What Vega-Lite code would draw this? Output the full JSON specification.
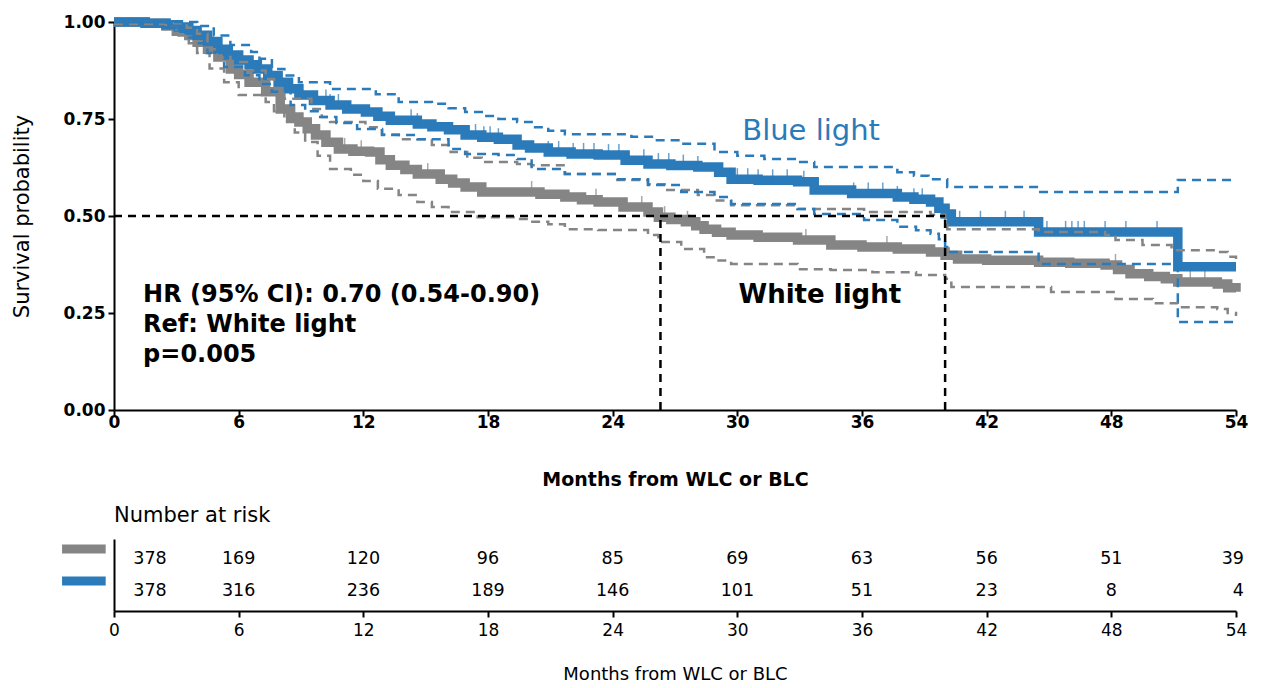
{
 "$schema": "https://vega.github.io/schema/vega-lite/v6.json",
 "padding": {"left": 11, "top": 3, "right": 5, "bottom": 3},
 "background": "white",
 "bounds": "flush",
 "spacing": 129,
 "config": {
  "view": {"stroke": null},
  "font": "DejaVu Sans",
  "axis": {"grid": false, "domainColor": "black", "tickColor": "black", "domainWidth": 2, "tickWidth": 2, "tickSize": 6, "labelColor": "black", "titleColor": "black", "labelFont": "DejaVu Sans", "titleFont": "DejaVu Sans"}
 },
 "datasets": {
  "km": [
   {"g":"White light","c":"est","t":0,"s":1.0},{"g":"White light","c":"est","t":1.5,"s":0.997},{"g":"White light","c":"est","t":2.5,"s":0.99},{"g":"White light","c":"est","t":3.0,"s":0.976},{"g":"White light","c":"est","t":3.6,"s":0.965},{"g":"White light","c":"est","t":4.0,"s":0.948},{"g":"White light","c":"est","t":4.5,"s":0.93},{"g":"White light","c":"est","t":5.0,"s":0.91},{"g":"White light","c":"est","t":5.6,"s":0.879},{"g":"White light","c":"est","t":6.0,"s":0.865},{"g":"White light","c":"est","t":6.5,"s":0.845},{"g":"White light","c":"est","t":7.3,"s":0.82},{"g":"White light","c":"est","t":8.0,"s":0.776},{"g":"White light","c":"est","t":8.5,"s":0.755},{"g":"White light","c":"est","t":8.9,"s":0.742},{"g":"White light","c":"est","t":9.3,"s":0.725},{"g":"White light","c":"est","t":9.7,"s":0.709},{"g":"White light","c":"est","t":10.2,"s":0.69},{"g":"White light","c":"est","t":10.8,"s":0.673},{"g":"White light","c":"est","t":11.5,"s":0.667},{"g":"White light","c":"est","t":12.3,"s":0.665},{"g":"White light","c":"est","t":12.8,"s":0.645},{"g":"White light","c":"est","t":13.3,"s":0.631},{"g":"White light","c":"est","t":14.0,"s":0.62},{"g":"White light","c":"est","t":14.6,"s":0.608},{"g":"White light","c":"est","t":15.7,"s":0.595},{"g":"White light","c":"est","t":16.3,"s":0.585},{"g":"White light","c":"est","t":16.9,"s":0.575},{"g":"White light","c":"est","t":17.7,"s":0.562},{"g":"White light","c":"est","t":20.5,"s":0.556},{"g":"White light","c":"est","t":21.7,"s":0.549},{"g":"White light","c":"est","t":22.5,"s":0.542},{"g":"White light","c":"est","t":23.3,"s":0.536},{"g":"White light","c":"est","t":24.5,"s":0.523},{"g":"White light","c":"est","t":25.7,"s":0.51},{"g":"White light","c":"est","t":26.2,"s":0.497},{"g":"White light","c":"est","t":26.8,"s":0.491},{"g":"White light","c":"est","t":27.5,"s":0.485},{"g":"White light","c":"est","t":28.0,"s":0.475},{"g":"White light","c":"est","t":28.4,"s":0.466},{"g":"White light","c":"est","t":29.0,"s":0.458},{"g":"White light","c":"est","t":29.7,"s":0.451},{"g":"White light","c":"est","t":31.0,"s":0.445},{"g":"White light","c":"est","t":32.9,"s":0.438},{"g":"White light","c":"est","t":34.5,"s":0.425},{"g":"White light","c":"est","t":36.0,"s":0.42},{"g":"White light","c":"est","t":37.7,"s":0.415},{"g":"White light","c":"est","t":39.3,"s":0.407},{"g":"White light","c":"est","t":40.0,"s":0.399},{"g":"White light","c":"est","t":40.6,"s":0.389},{"g":"White light","c":"est","t":42.0,"s":0.386},{"g":"White light","c":"est","t":44.5,"s":0.381},{"g":"White light","c":"est","t":46.0,"s":0.378},{"g":"White light","c":"est","t":47.7,"s":0.374},{"g":"White light","c":"est","t":48.3,"s":0.362},{"g":"White light","c":"est","t":48.9,"s":0.351},{"g":"White light","c":"est","t":49.8,"s":0.344},{"g":"White light","c":"est","t":50.6,"s":0.338},{"g":"White light","c":"est","t":51.2,"s":0.33},{"g":"White light","c":"est","t":53.1,"s":0.325},{"g":"White light","c":"est","t":53.6,"s":0.315},{"g":"White light","c":"est","t":54.0,"s":0.305},
   {"g":"Blue light","c":"est","t":0,"s":1.0},{"g":"Blue light","c":"est","t":1.5,"s":0.997},{"g":"Blue light","c":"est","t":2.5,"s":0.993},{"g":"Blue light","c":"est","t":3.1,"s":0.987},{"g":"Blue light","c":"est","t":3.6,"s":0.978},{"g":"Blue light","c":"est","t":4.0,"s":0.966},{"g":"Blue light","c":"est","t":4.5,"s":0.95},{"g":"Blue light","c":"est","t":5.0,"s":0.93},{"g":"Blue light","c":"est","t":5.5,"s":0.915},{"g":"Blue light","c":"est","t":6.0,"s":0.902},{"g":"Blue light","c":"est","t":6.5,"s":0.89},{"g":"Blue light","c":"est","t":6.9,"s":0.879},{"g":"Blue light","c":"est","t":7.4,"s":0.862},{"g":"Blue light","c":"est","t":7.9,"s":0.845},{"g":"Blue light","c":"est","t":8.4,"s":0.828},{"g":"Blue light","c":"est","t":8.9,"s":0.812},{"g":"Blue light","c":"est","t":9.6,"s":0.798},{"g":"Blue light","c":"est","t":10.4,"s":0.786},{"g":"Blue light","c":"est","t":11.2,"s":0.776},{"g":"Blue light","c":"est","t":12.1,"s":0.768},{"g":"Blue light","c":"est","t":12.7,"s":0.757},{"g":"Blue light","c":"est","t":13.3,"s":0.747},{"g":"Blue light","c":"est","t":14.6,"s":0.737},{"g":"Blue light","c":"est","t":15.3,"s":0.73},{"g":"Blue light","c":"est","t":16.1,"s":0.722},{"g":"Blue light","c":"est","t":16.9,"s":0.709},{"g":"Blue light","c":"est","t":17.7,"s":0.703},{"g":"Blue light","c":"est","t":18.5,"s":0.698},{"g":"Blue light","c":"est","t":19.4,"s":0.683},{"g":"Blue light","c":"est","t":20.0,"s":0.675},{"g":"Blue light","c":"est","t":20.9,"s":0.665},{"g":"Blue light","c":"est","t":22.0,"s":0.66},{"g":"Blue light","c":"est","t":23.3,"s":0.657},{"g":"Blue light","c":"est","t":24.6,"s":0.644},{"g":"Blue light","c":"est","t":25.7,"s":0.634},{"g":"Blue light","c":"est","t":26.8,"s":0.63},{"g":"Blue light","c":"est","t":28.1,"s":0.626},{"g":"Blue light","c":"est","t":29.1,"s":0.613},{"g":"Blue light","c":"est","t":29.7,"s":0.595},{"g":"Blue light","c":"est","t":31.0,"s":0.592},{"g":"Blue light","c":"est","t":32.9,"s":0.588},{"g":"Blue light","c":"est","t":33.7,"s":0.567},{"g":"Blue light","c":"est","t":35.5,"s":0.558},{"g":"Blue light","c":"est","t":37.7,"s":0.549},{"g":"Blue light","c":"est","t":38.5,"s":0.543},{"g":"Blue light","c":"est","t":39.3,"s":0.536},{"g":"Blue light","c":"est","t":39.7,"s":0.52},{"g":"Blue light","c":"est","t":40.0,"s":0.505},{"g":"Blue light","c":"est","t":40.3,"s":0.485},{"g":"Blue light","c":"est","t":44.5,"s":0.459},{"g":"Blue light","c":"est","t":51.2,"s":0.369},{"g":"Blue light","c":"est","t":54.0,"s":0.369},
   {"g":"Blue light","c":"hi","t":0,"s":1.0},{"g":"Blue light","c":"hi","t":3.0,"s":1.0},{"g":"Blue light","c":"hi","t":4.0,"s":0.99},{"g":"Blue light","c":"hi","t":4.8,"s":0.965},{"g":"Blue light","c":"hi","t":5.6,"s":0.941},{"g":"Blue light","c":"hi","t":6.6,"s":0.923},{"g":"Blue light","c":"hi","t":7.0,"s":0.905},{"g":"Blue light","c":"hi","t":7.6,"s":0.879},{"g":"Blue light","c":"hi","t":8.2,"s":0.862},{"g":"Blue light","c":"hi","t":8.9,"s":0.845},{"g":"Blue light","c":"hi","t":10.4,"s":0.827},{"g":"Blue light","c":"hi","t":12.6,"s":0.814},{"g":"Blue light","c":"hi","t":13.7,"s":0.794},{"g":"Blue light","c":"hi","t":15.3,"s":0.789},{"g":"Blue light","c":"hi","t":16.1,"s":0.778},{"g":"Blue light","c":"hi","t":16.9,"s":0.768},{"g":"Blue light","c":"hi","t":17.7,"s":0.758},{"g":"Blue light","c":"hi","t":18.5,"s":0.75},{"g":"Blue light","c":"hi","t":19.4,"s":0.742},{"g":"Blue light","c":"hi","t":20.1,"s":0.729},{"g":"Blue light","c":"hi","t":20.9,"s":0.72},{"g":"Blue light","c":"hi","t":21.7,"s":0.711},{"g":"Blue light","c":"hi","t":24.9,"s":0.704},{"g":"Blue light","c":"hi","t":26.0,"s":0.695},{"g":"Blue light","c":"hi","t":27.3,"s":0.686},{"g":"Blue light","c":"hi","t":28.9,"s":0.665},{"g":"Blue light","c":"hi","t":30.0,"s":0.655},{"g":"Blue light","c":"hi","t":31.3,"s":0.647},{"g":"Blue light","c":"hi","t":32.9,"s":0.639},{"g":"Blue light","c":"hi","t":33.7,"s":0.626},{"g":"Blue light","c":"hi","t":37.7,"s":0.613},{"g":"Blue light","c":"hi","t":38.5,"s":0.604},{"g":"Blue light","c":"hi","t":39.2,"s":0.595},{"g":"Blue light","c":"hi","t":40.1,"s":0.575},{"g":"Blue light","c":"hi","t":44.5,"s":0.562},{"g":"Blue light","c":"hi","t":51.2,"s":0.593},{"g":"Blue light","c":"hi","t":54.0,"s":0.593},
   {"g":"Blue light","c":"lo","t":0,"s":1.0},{"g":"Blue light","c":"lo","t":2.5,"s":0.985},{"g":"Blue light","c":"lo","t":3.1,"s":0.975},{"g":"Blue light","c":"lo","t":3.6,"s":0.96},{"g":"Blue light","c":"lo","t":4.0,"s":0.945},{"g":"Blue light","c":"lo","t":4.5,"s":0.92},{"g":"Blue light","c":"lo","t":5.3,"s":0.884},{"g":"Blue light","c":"lo","t":6.3,"s":0.863},{"g":"Blue light","c":"lo","t":7.0,"s":0.84},{"g":"Blue light","c":"lo","t":7.6,"s":0.82},{"g":"Blue light","c":"lo","t":8.5,"s":0.786},{"g":"Blue light","c":"lo","t":9.2,"s":0.77},{"g":"Blue light","c":"lo","t":9.8,"s":0.755},{"g":"Blue light","c":"lo","t":10.7,"s":0.74},{"g":"Blue light","c":"lo","t":11.7,"s":0.724},{"g":"Blue light","c":"lo","t":12.9,"s":0.709},{"g":"Blue light","c":"lo","t":14.6,"s":0.698},{"g":"Blue light","c":"lo","t":16.1,"s":0.673},{"g":"Blue light","c":"lo","t":16.9,"s":0.66},{"g":"Blue light","c":"lo","t":18.5,"s":0.657},{"g":"Blue light","c":"lo","t":19.4,"s":0.647},{"g":"Blue light","c":"lo","t":20.1,"s":0.621},{"g":"Blue light","c":"lo","t":21.7,"s":0.608},{"g":"Blue light","c":"lo","t":24.1,"s":0.595},{"g":"Blue light","c":"lo","t":25.7,"s":0.58},{"g":"Blue light","c":"lo","t":27.3,"s":0.562},{"g":"Blue light","c":"lo","t":28.9,"s":0.549},{"g":"Blue light","c":"lo","t":29.7,"s":0.531},{"g":"Blue light","c":"lo","t":32.9,"s":0.518},{"g":"Blue light","c":"lo","t":33.7,"s":0.505},{"g":"Blue light","c":"lo","t":36.1,"s":0.49},{"g":"Blue light","c":"lo","t":37.7,"s":0.472},{"g":"Blue light","c":"lo","t":38.6,"s":0.463},{"g":"Blue light","c":"lo","t":39.3,"s":0.454},{"g":"Blue light","c":"lo","t":39.7,"s":0.44},{"g":"Blue light","c":"lo","t":40.0,"s":0.42},{"g":"Blue light","c":"lo","t":40.1,"s":0.407},{"g":"Blue light","c":"lo","t":44.5,"s":0.376},{"g":"Blue light","c":"lo","t":51.2,"s":0.227},{"g":"Blue light","c":"lo","t":54.0,"s":0.227},
   {"g":"White light","c":"hi","t":0,"s":1.0},{"g":"White light","c":"hi","t":2.5,"s":0.997},{"g":"White light","c":"hi","t":3.5,"s":0.985},{"g":"White light","c":"hi","t":4.0,"s":0.97},{"g":"White light","c":"hi","t":4.5,"s":0.93},{"g":"White light","c":"hi","t":5.0,"s":0.915},{"g":"White light","c":"hi","t":5.6,"s":0.897},{"g":"White light","c":"hi","t":6.4,"s":0.875},{"g":"White light","c":"hi","t":7.3,"s":0.853},{"g":"White light","c":"hi","t":7.7,"s":0.83},{"g":"White light","c":"hi","t":8.2,"s":0.802},{"g":"White light","c":"hi","t":9.5,"s":0.776},{"g":"White light","c":"hi","t":10.0,"s":0.755},{"g":"White light","c":"hi","t":10.4,"s":0.742},{"g":"White light","c":"hi","t":12.1,"s":0.729},{"g":"White light","c":"hi","t":12.9,"s":0.71},{"g":"White light","c":"hi","t":13.7,"s":0.698},{"g":"White light","c":"hi","t":15.3,"s":0.683},{"g":"White light","c":"hi","t":16.2,"s":0.665},{"g":"White light","c":"hi","t":17.0,"s":0.65},{"g":"White light","c":"hi","t":17.7,"s":0.639},{"g":"White light","c":"hi","t":19.4,"s":0.634},{"g":"White light","c":"hi","t":20.1,"s":0.631},{"g":"White light","c":"hi","t":21.7,"s":0.608},{"g":"White light","c":"hi","t":24.1,"s":0.593},{"g":"White light","c":"hi","t":25.7,"s":0.582},{"g":"White light","c":"hi","t":26.5,"s":0.567},{"g":"White light","c":"hi","t":28.1,"s":0.554},{"g":"White light","c":"hi","t":28.9,"s":0.54},{"g":"White light","c":"hi","t":29.7,"s":0.528},{"g":"White light","c":"hi","t":32.9,"s":0.518},{"g":"White light","c":"hi","t":36.1,"s":0.51},{"g":"White light","c":"hi","t":39.3,"s":0.503},{"g":"White light","c":"hi","t":40.0,"s":0.492},{"g":"White light","c":"hi","t":40.1,"s":0.466},{"g":"White light","c":"hi","t":44.5,"s":0.459},{"g":"White light","c":"hi","t":47.7,"s":0.451},{"g":"White light","c":"hi","t":48.2,"s":0.438},{"g":"White light","c":"hi","t":49.5,"s":0.425},{"g":"White light","c":"hi","t":50.9,"s":0.412},{"g":"White light","c":"hi","t":53.1,"s":0.407},{"g":"White light","c":"hi","t":53.6,"s":0.395},{"g":"White light","c":"hi","t":54.0,"s":0.387},
   {"g":"White light","c":"lo","t":0,"s":0.995},{"g":"White light","c":"lo","t":2.5,"s":0.985},{"g":"White light","c":"lo","t":3.0,"s":0.965},{"g":"White light","c":"lo","t":3.6,"s":0.945},{"g":"White light","c":"lo","t":4.0,"s":0.92},{"g":"White light","c":"lo","t":4.6,"s":0.88},{"g":"White light","c":"lo","t":5.3,"s":0.845},{"g":"White light","c":"lo","t":6.0,"s":0.812},{"g":"White light","c":"lo","t":7.3,"s":0.794},{"g":"White light","c":"lo","t":7.7,"s":0.77},{"g":"White light","c":"lo","t":8.2,"s":0.742},{"g":"White light","c":"lo","t":8.7,"s":0.715},{"g":"White light","c":"lo","t":9.2,"s":0.691},{"g":"White light","c":"lo","t":9.8,"s":0.655},{"g":"White light","c":"lo","t":10.4,"s":0.621},{"g":"White light","c":"lo","t":11.4,"s":0.606},{"g":"White light","c":"lo","t":12.0,"s":0.59},{"g":"White light","c":"lo","t":12.7,"s":0.57},{"g":"White light","c":"lo","t":13.7,"s":0.554},{"g":"White light","c":"lo","t":14.6,"s":0.536},{"g":"White light","c":"lo","t":15.3,"s":0.523},{"g":"White light","c":"lo","t":16.1,"s":0.51},{"g":"White light","c":"lo","t":17.5,"s":0.497},{"g":"White light","c":"lo","t":19.4,"s":0.492},{"g":"White light","c":"lo","t":20.0,"s":0.485},{"g":"White light","c":"lo","t":20.9,"s":0.479},{"g":"White light","c":"lo","t":21.7,"s":0.466},{"g":"White light","c":"lo","t":23.3,"s":0.464},{"g":"White light","c":"lo","t":25.7,"s":0.451},{"g":"White light","c":"lo","t":26.2,"s":0.433},{"g":"White light","c":"lo","t":27.3,"s":0.415},{"g":"White light","c":"lo","t":28.4,"s":0.394},{"g":"White light","c":"lo","t":29.0,"s":0.385},{"g":"White light","c":"lo","t":29.7,"s":0.376},{"g":"White light","c":"lo","t":32.9,"s":0.363},{"g":"White light","c":"lo","t":34.5,"s":0.361},{"g":"White light","c":"lo","t":36.5,"s":0.355},{"g":"White light","c":"lo","t":38.6,"s":0.348},{"g":"White light","c":"lo","t":40.0,"s":0.338},{"g":"White light","c":"lo","t":40.3,"s":0.317},{"g":"White light","c":"lo","t":45.1,"s":0.304},{"g":"White light","c":"lo","t":48.2,"s":0.286},{"g":"White light","c":"lo","t":50.0,"s":0.275},{"g":"White light","c":"lo","t":51.2,"s":0.265},{"g":"White light","c":"lo","t":53.1,"s":0.26},{"g":"White light","c":"lo","t":53.6,"s":0.25},{"g":"White light","c":"lo","t":54.0,"s":0.242}
  ],
  "censor": [
   {"g":"Blue light","t":10.2,"s":0.798},{"g":"Blue light","t":10.4,"s":0.786},{"g":"Blue light","t":10.8,"s":0.786},{"g":"Blue light","t":14.3,"s":0.747},{"g":"Blue light","t":14.6,"s":0.737},{"g":"Blue light","t":17.4,"s":0.709},{"g":"Blue light","t":17.8,"s":0.703},{"g":"Blue light","t":18.1,"s":0.703},{"g":"Blue light","t":18.5,"s":0.698},
   {"g":"Blue light","t":20.9,"s":0.665},{"g":"Blue light","t":21.4,"s":0.665},{"g":"Blue light","t":22.1,"s":0.66},{"g":"Blue light","t":22.6,"s":0.66},{"g":"Blue light","t":23.1,"s":0.66},{"g":"Blue light","t":23.8,"s":0.657},{"g":"Blue light","t":24.3,"s":0.657},
   {"g":"Blue light","t":25.5,"s":0.644},{"g":"Blue light","t":26.2,"s":0.634},{"g":"Blue light","t":26.7,"s":0.634},{"g":"Blue light","t":27.4,"s":0.63},{"g":"Blue light","t":28.1,"s":0.626},
   {"g":"Blue light","t":30.0,"s":0.595},{"g":"Blue light","t":30.5,"s":0.595},{"g":"Blue light","t":31.0,"s":0.592},{"g":"Blue light","t":31.7,"s":0.592},{"g":"Blue light","t":32.4,"s":0.592},{"g":"Blue light","t":33.2,"s":0.588},
   {"g":"Blue light","t":35.6,"s":0.558},{"g":"Blue light","t":36.3,"s":0.558},{"g":"Blue light","t":37.0,"s":0.558},{"g":"Blue light","t":37.7,"s":0.549},{"g":"Blue light","t":38.5,"s":0.543},{"g":"Blue light","t":38.9,"s":0.543},
   {"g":"Blue light","t":40.7,"s":0.485},{"g":"Blue light","t":41.7,"s":0.485},{"g":"Blue light","t":42.9,"s":0.485},{"g":"Blue light","t":43.8,"s":0.485},
   {"g":"Blue light","t":44.9,"s":0.459},{"g":"Blue light","t":45.8,"s":0.459},{"g":"Blue light","t":46.1,"s":0.459},{"g":"Blue light","t":46.4,"s":0.459},{"g":"Blue light","t":46.7,"s":0.459},{"g":"Blue light","t":47.7,"s":0.459},{"g":"Blue light","t":48.7,"s":0.459},{"g":"Blue light","t":50.2,"s":0.459},
   {"g":"White light","t":11.1,"s":0.673},{"g":"White light","t":11.9,"s":0.667},{"g":"White light","t":15.1,"s":0.608},{"g":"White light","t":20.1,"s":0.562},{"g":"White light","t":23.2,"s":0.542},{"g":"White light","t":25.4,"s":0.523},{"g":"White light","t":26.5,"s":0.497},{"g":"White light","t":27.6,"s":0.485},{"g":"White light","t":33.3,"s":0.438},{"g":"White light","t":37.2,"s":0.42},{"g":"White light","t":48.2,"s":0.374},{"g":"White light","t":51.8,"s":0.33},{"g":"White light","t":52.5,"s":0.33}
  ],
  "refs": [
   {"t":0,"t2":40.0,"s":0.5,"s2":0.5},
   {"t":26.3,"t2":26.3,"s":0,"s2":0.5},
   {"t":40.0,"t2":40.0,"s":0,"s2":0.5}
  ],
  "notes": [
   {"k":"blue","t":33.55,"s":0.719,"label":"Blue light"},
   {"k":"white","t":33.97,"s":0.296,"label":"White light"},
   {"k":"hr","t":1.4,"s":0.296,"label":"HR (95% CI): 0.70 (0.54-0.90)"},
   {"k":"hr","t":1.4,"s":0.219,"label":"Ref: White light"},
   {"k":"hr","t":1.4,"s":0.142,"label":"p=0.005"}
  ],
  "risk": [
   {"g":"White light","t":0,"n":378},{"g":"White light","t":6,"n":169},{"g":"White light","t":12,"n":120},{"g":"White light","t":18,"n":96},{"g":"White light","t":24,"n":85},{"g":"White light","t":30,"n":69},{"g":"White light","t":36,"n":63},{"g":"White light","t":42,"n":56},{"g":"White light","t":48,"n":51},{"g":"White light","t":54,"n":39},
   {"g":"Blue light","t":0,"n":378},{"g":"Blue light","t":6,"n":316},{"g":"Blue light","t":12,"n":236},{"g":"Blue light","t":18,"n":189},{"g":"Blue light","t":24,"n":146},{"g":"Blue light","t":30,"n":101},{"g":"Blue light","t":36,"n":51},{"g":"Blue light","t":42,"n":23},{"g":"Blue light","t":48,"n":8},{"g":"Blue light","t":54,"n":4}
  ],
  "swatch": [
   {"g":"White light","t":-2.5,"t2":-0.4},
   {"g":"Blue light","t":-2.5,"t2":-0.4}
  ]
 },
 "vconcat": [
  {
   "width": 1122,
   "height": 388,
   "encoding": {
    "x": {"field": "t", "type": "quantitative", "scale": {"domain": [0, 54], "nice": false, "zero": false},
     "axis": {"values": [0,6,12,18,24,30,36,42,48,54], "title": "Months from WLC or BLC", "titleFontSize": 19, "titleFontWeight": "bold", "labelFontSize": 17, "labelFontWeight": "bold", "labelPadding": -2, "titlePadding": 40, "labelFlush": false}},
    "y": {"field": "s", "type": "quantitative", "scale": {"domain": [0, 1], "nice": false},
     "axis": {"values": [0,0.25,0.5,0.75,1], "format": ".2f", "title": "Survival probability", "titleFontSize": 21, "titleFontWeight": "normal", "labelFontSize": 17, "labelFontWeight": "bold", "labelPadding": 3, "titlePadding": 31}}
   },
   "layer": [
    {"data": {"name": "km"}, "transform": [{"filter": "datum.c === 'est' && datum.g === 'White light'"}],
     "mark": {"type": "line", "interpolate": "step-after", "strokeWidth": 9.5, "color": "#858585"}, "encoding": {}},
    {"data": {"name": "censor"}, "transform": [{"filter": "datum.g === 'White light'"}],
     "mark": {"type": "tick", "orient": "vertical", "size": 12, "thickness": 1.5, "yOffset": -5, "color": "#858585"}},
    {"data": {"name": "km"}, "transform": [{"filter": "datum.c === 'est' && datum.g === 'Blue light'"}],
     "mark": {"type": "line", "interpolate": "step-after", "strokeWidth": 9.5, "color": "#2b7bba"}, "encoding": {}},
    {"data": {"name": "censor"}, "transform": [{"filter": "datum.g === 'Blue light'"}],
     "mark": {"type": "tick", "orient": "vertical", "size": 12, "thickness": 1.5, "yOffset": -5, "color": "#2b7bba"}},
    {"data": {"name": "km"}, "transform": [{"filter": "datum.c !== 'est' && datum.g === 'White light'"}],
     "mark": {"type": "line", "interpolate": "step-after", "strokeWidth": 2.5, "strokeDash": [9, 6], "color": "#858585"}, "encoding": {"detail": {"field": "c"}}},
    {"data": {"name": "km"}, "transform": [{"filter": "datum.c !== 'est' && datum.g === 'Blue light'"}],
     "mark": {"type": "line", "interpolate": "step-after", "strokeWidth": 2.5, "strokeDash": [9, 6], "color": "#2b7bba"}, "encoding": {"detail": {"field": "c"}}},
    {"data": {"name": "refs"},
     "mark": {"type": "rule", "strokeWidth": 2.5, "strokeDash": [8, 6], "color": "black"},
     "encoding": {"x2": {"field": "t2"}, "y2": {"field": "s2"}}},
    {"data": {"name": "notes"}, "transform": [{"filter": "datum.k === 'blue'"}],
     "mark": {"type": "text", "fontSize": 29, "fontWeight": "normal", "color": "#2b7bba", "align": "center", "baseline": "middle"},
     "encoding": {"text": {"field": "label"}}},
    {"data": {"name": "notes"}, "transform": [{"filter": "datum.k === 'white'"}],
     "mark": {"type": "text", "fontSize": 26, "fontWeight": "bold", "color": "black", "align": "center", "baseline": "middle"},
     "encoding": {"text": {"field": "label"}}},
    {"data": {"name": "notes"}, "transform": [{"filter": "datum.k === 'hr'"}],
     "mark": {"type": "text", "fontSize": 24, "fontWeight": "bold", "color": "black", "align": "left", "baseline": "middle"},
     "encoding": {"text": {"field": "label"}}}
   ]
  },
  {
   "width": 1122,
   "height": 72,
   "title": {"text": "Number at risk", "anchor": "start", "frame": "group", "fontSize": 21, "fontWeight": "normal", "font": "DejaVu Sans", "color": "black", "offset": 13},
   "encoding": {
    "x": {"field": "t", "type": "quantitative", "scale": {"domain": [0, 54], "nice": false, "zero": false},
     "axis": {"values": [0,6,12,18,24,30,36,42,48,54], "title": "Months from WLC or BLC", "titleFontSize": 18, "titleFontWeight": "normal", "labelFontSize": 17, "labelFontWeight": "normal", "labelPadding": 5, "titlePadding": 27, "labelFlush": false}},
    "y": {"field": "g", "type": "nominal", "scale": {"type": "point", "domain": ["White light", "Blue light"], "padding": 0.625},
     "axis": {"labels": false, "ticks": false, "title": null}}
   },
   "layer": [
    {"data": {"name": "risk"}, "transform": [{"filter": "datum.t === 0"}],
     "mark": {"type": "text", "fontSize": 17.5, "dx": 36, "align": "center", "baseline": "middle", "color": "black"},
     "encoding": {"text": {"field": "n"}}},
    {"data": {"name": "risk"}, "transform": [{"filter": "datum.t > 0 && datum.t < 54"}],
     "mark": {"type": "text", "fontSize": 17.5, "align": "center", "baseline": "middle", "color": "black"},
     "encoding": {"text": {"field": "n"}}},
    {"data": {"name": "risk"}, "transform": [{"filter": "datum.t === 54"}],
     "mark": {"type": "text", "fontSize": 17.5, "dx": 8, "align": "right", "baseline": "middle", "color": "black"},
     "encoding": {"text": {"field": "n"}}},
    {"data": {"name": "swatch"},
     "mark": {"type": "rule", "strokeWidth": 9, "clip": false, "yOffset": -10},
     "encoding": {"x2": {"field": "t2"},
      "color": {"field": "g", "type": "nominal", "scale": {"domain": ["White light", "Blue light"], "range": ["#858585", "#2b7bba"]}, "legend": null}}}
   ]
  }
 ]
}
